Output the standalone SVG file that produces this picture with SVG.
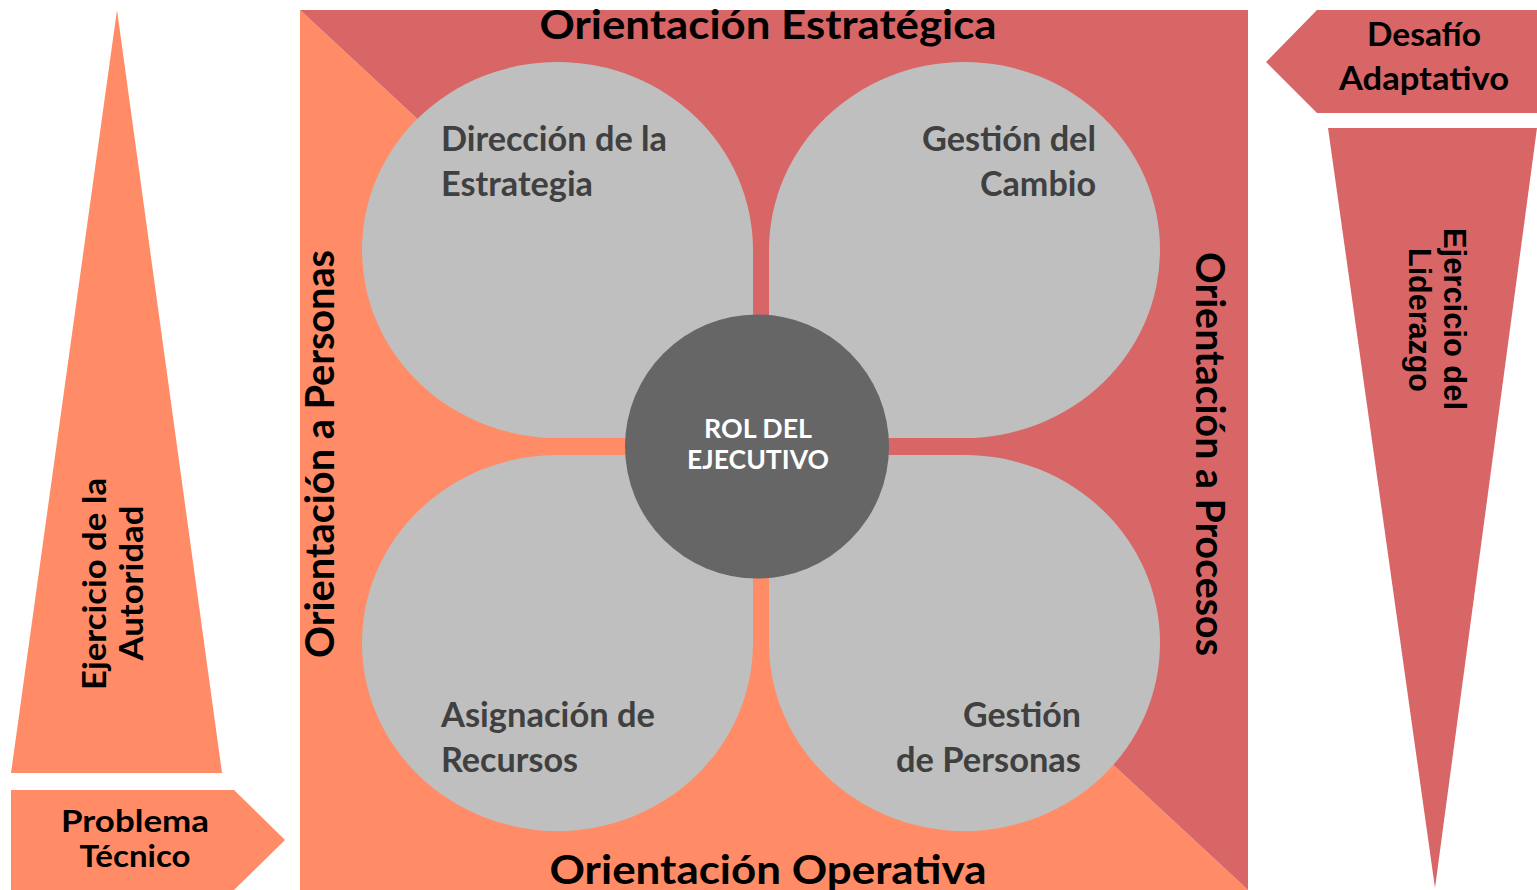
<svg xmlns="http://www.w3.org/2000/svg" width="1537" height="890" viewBox="0 0 1537 890">
<style>
.red{fill:#D96666}
.org{fill:#FF8C66}
.petal{fill:#BFBFBF}
.t{font-family:Lato,"Open Sans","Liberation Sans",sans-serif;font-weight:bold;fill:#000}
.title{font-size:40px}
.side{font-size:33px}
.side2{font-size:30px}
.pt{font-family:Lato,"Open Sans","Liberation Sans",sans-serif;font-weight:bold;font-size:34px;fill:#404040}
.ct{font-family:Lato,"Open Sans","Liberation Sans",sans-serif;font-weight:bold;font-size:26px;fill:#FFFFFF}
.ar{font-family:"Liberation Sans",Arial,sans-serif;font-weight:bold;font-size:32px;fill:#000}
</style>
<rect width="1537" height="890" fill="#FFFFFF"/>
<g id="background">
<polygon class="org" points="300,10 300,890 1248,890"/>
<polygon class="red" points="300,10 1248,10 1248,890"/>
</g>
<g id="connectors"></g>
<g id="label-estrategica">
<text class="t title" x="768" y="39" text-anchor="middle" textLength="457" lengthAdjust="spacingAndGlyphs">Orientación Estratégica</text>
</g>
<g id="label-operativa">
<text class="t title" x="768" y="884" text-anchor="middle" textLength="437" lengthAdjust="spacingAndGlyphs">Orientación Operativa</text>
</g>
<g id="label-personas">
<text class="t title" transform="translate(334 454) rotate(-90)" x="0" y="0" text-anchor="middle" textLength="408" lengthAdjust="spacingAndGlyphs">Orientación a Personas</text>
</g>
<g id="label-procesos">
<text class="t title" transform="translate(1196 454) rotate(90)" x="0" y="0" text-anchor="middle" textLength="404" lengthAdjust="spacingAndGlyphs">Orientación a Procesos</text>
</g>
<g id="petal-direccion">
<path class="petal" d="M557.5 62 A195.5 188 0 0 1 753 250 L753 438 L557.5 438 A195.5 188 0 0 1 362 250 A195.5 188 0 0 1 557.5 62 Z"/>
<text class="pt" x="441" y="151" textLength="226" lengthAdjust="spacingAndGlyphs">Dirección de la</text>
<text class="pt" x="441" y="196" textLength="152" lengthAdjust="spacingAndGlyphs">Estrategia</text>
</g>
<g id="petal-cambio">
<path class="petal" d="M964.5 62 A195.5 188 0 0 1 1160 250 A195.5 188 0 0 1 964.5 438 L769 438 L769 250 A195.5 188 0 0 1 964.5 62 Z"/>
<text class="pt" x="1096" y="151" text-anchor="end" textLength="174" lengthAdjust="spacingAndGlyphs">Gestión del</text>
<text class="pt" x="1096" y="196" text-anchor="end" textLength="116" lengthAdjust="spacingAndGlyphs">Cambio</text>
</g>
<g id="petal-recursos">
<path class="petal" d="M362 643 A195.5 188 0 0 1 557.5 455 L753 455 L753 643 A195.5 188 0 0 1 557.5 831 A195.5 188 0 0 1 362 643 Z"/>
<text class="pt" x="441" y="727" textLength="214" lengthAdjust="spacingAndGlyphs">Asignación de</text>
<text class="pt" x="441" y="772" textLength="137" lengthAdjust="spacingAndGlyphs">Recursos</text>
</g>
<g id="petal-personas">
<path class="petal" d="M769 455 L964.5 455 A195.5 188 0 0 1 1160 643 A195.5 188 0 0 1 964.5 831 A195.5 188 0 0 1 769 643 Z"/>
<text class="pt" x="1081" y="727" text-anchor="end" textLength="118" lengthAdjust="spacingAndGlyphs">Gestión</text>
<text class="pt" x="1081" y="772" text-anchor="end" textLength="185" lengthAdjust="spacingAndGlyphs">de Personas</text>
</g>
<g id="center-rol">
<circle cx="757" cy="446.5" r="132" fill="#666666"/>
<text class="ct" x="758" y="438" text-anchor="middle" textLength="108" lengthAdjust="spacingAndGlyphs">ROL DEL</text>
<text class="ct" x="758" y="469" text-anchor="middle" textLength="142" lengthAdjust="spacingAndGlyphs">EJECUTIVO</text>
</g>
<g id="autoridad">
<polygon class="org" points="117,10 222,773 11,773"/>
<text class="t side" transform="translate(0 584) rotate(-90)" x="0" y="106" text-anchor="middle" textLength="212" lengthAdjust="spacingAndGlyphs">Ejercicio de la</text>
<text class="t side" transform="translate(0 583) rotate(-90)" x="0" y="143" text-anchor="middle" textLength="155" lengthAdjust="spacingAndGlyphs">Autoridad</text>
</g>
<g id="problema-tecnico">
<polygon class="org" points="11,790 234,790 285,840 234,890 11,890"/>
<text class="t side2" x="135" y="832" text-anchor="middle" textLength="148" lengthAdjust="spacingAndGlyphs">Problema</text>
<text class="t side2" x="135" y="867" text-anchor="middle" textLength="111" lengthAdjust="spacingAndGlyphs">Técnico</text>
</g>
<g id="desafio-adaptativo">
<polygon class="red" points="1266,62 1317,10 1537,10 1537,113 1317,113"/>
<text class="t side" x="1424" y="46" text-anchor="middle" textLength="114" lengthAdjust="spacingAndGlyphs">Desafío</text>
<text class="t side" x="1424" y="90" text-anchor="middle" textLength="170" lengthAdjust="spacingAndGlyphs">Adaptativo</text>
</g>
<g id="liderazgo">
<polygon class="red" points="1328,128 1537,128 1435,888"/>
<text class="ar" transform="translate(1444 319) rotate(90)" x="0" y="0" text-anchor="middle" textLength="182" lengthAdjust="spacingAndGlyphs">Ejercicio del</text>
<text class="ar" transform="translate(1409 320) rotate(90)" x="0" y="0" text-anchor="middle" textLength="144" lengthAdjust="spacingAndGlyphs">Liderazgo</text>
</g>
</svg>
